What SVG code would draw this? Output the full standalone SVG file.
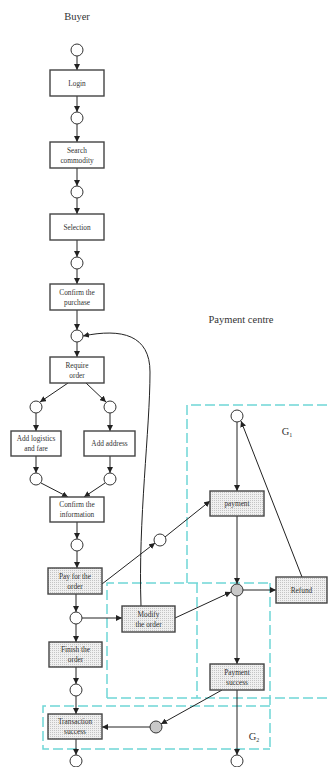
<svg xmlns="http://www.w3.org/2000/svg" width="328" height="767" viewBox="0 0 328 767">
<defs>
<pattern id="dots" width="2" height="2" patternUnits="userSpaceOnUse">
<rect width="2" height="2" fill="#f0f0f0"/>
<rect width="1" height="1" fill="#c4c4c4"/>
</pattern>
<marker id="ah" markerWidth="6" markerHeight="6" refX="6" refY="3" orient="auto" markerUnits="userSpaceOnUse">
<path d="M0,0 L6,3 L0,6 z" fill="#222"/>
</marker>
<style>
text{font-family:"Liberation Serif","DejaVu Serif",serif;fill:#333;text-anchor:middle}
.t{font-size:7.3px}
.h{font-size:10.5px}
.b{fill:#fff;stroke:#444;stroke-width:1.4}
.g{fill:url(#dots);stroke:#444;stroke-width:1.4}
.c{fill:#fff;stroke:#333;stroke-width:1}
.cg{fill:#c8c8c8;stroke:#333;stroke-width:1}
.e{stroke:#222;stroke-width:1;fill:none;marker-end:url(#ah)}
.d{stroke:#6fd6d6;stroke-width:1.5;fill:none;stroke-dasharray:10 4}
</style>
</defs>
<rect width="328" height="767" fill="#fff"/>

<g id="regions">
<path class="d" d="M187 583 L187 405 L328 405"/>
<path class="d" d="M107 698 L107 583 L270 583"/>
<path class="d" d="M107 698 L328 698"/>
<path class="d" d="M197 583 L197 698"/>
<path class="d" d="M270 583 L270 749"/>
<path class="d" d="M270 706 L43 706 L43 749 L270 749"/>
<text class="h" x="287" y="435">G<tspan font-size="6" dy="2">1</tspan></text>
<text class="h" x="254" y="740">G<tspan font-size="6" dy="2">2</tspan></text>
</g>

<text class="h" x="77" y="20">Buyer</text>
<text class="h" x="241" y="323">Payment  centre</text>

<g id="connectors">
<line class="e" x1="77" y1="56" x2="77" y2="70"/>
<line class="e" x1="77" y1="96" x2="77" y2="112"/>
<line class="e" x1="77" y1="124" x2="77" y2="142"/>
<line class="e" x1="77" y1="168" x2="77" y2="186"/>
<line class="e" x1="77" y1="198" x2="77" y2="214"/>
<line class="e" x1="77" y1="240" x2="77" y2="257"/>
<line class="e" x1="77" y1="269" x2="77" y2="284"/>
<line class="e" x1="77" y1="310" x2="77" y2="330"/>
<line class="e" x1="77" y1="342" x2="77" y2="357"/>
<line class="e" x1="68" y1="383" x2="40" y2="402"/>
<line class="e" x1="86" y1="383" x2="106" y2="402"/>
<line class="e" x1="36" y1="413" x2="36" y2="431"/>
<line class="e" x1="110" y1="413" x2="110" y2="431"/>
<line class="e" x1="36" y1="456" x2="36" y2="473"/>
<line class="e" x1="110" y1="456" x2="110" y2="473"/>
<line class="e" x1="41" y1="483" x2="68" y2="497"/>
<line class="e" x1="105" y1="483" x2="84" y2="497"/>
<line class="e" x1="77" y1="522" x2="77" y2="539"/>
<line class="e" x1="77" y1="551" x2="77" y2="568"/>
<line class="e" x1="76" y1="594" x2="76" y2="612"/>
<line class="e" x1="82" y1="618" x2="122" y2="618"/>
<line class="e" x1="76" y1="624" x2="76" y2="642"/>
<line class="e" x1="76" y1="667" x2="76" y2="684"/>
<line class="e" x1="76" y1="696" x2="76" y2="714"/>
<line class="e" x1="76" y1="739" x2="76" y2="755"/>
<line class="e" x1="102" y1="584" x2="155" y2="543"/>
<line class="e" x1="165" y1="537" x2="210" y2="501"/>
<line class="e" x1="175" y1="618" x2="231" y2="592"/>
<line class="e" x1="237" y1="422" x2="237" y2="491"/>
<line class="e" x1="237" y1="516" x2="237" y2="584"/>
<line class="e" x1="237" y1="596" x2="237" y2="664"/>
<line class="e" x1="237" y1="690" x2="237" y2="755"/>
<line class="e" x1="243" y1="590" x2="276" y2="590"/>
<line class="e" x1="302" y1="577" x2="241" y2="421"/>
<line class="e" x1="222" y1="690" x2="161" y2="724"/>
<line class="e" x1="150" y1="727" x2="102" y2="727"/>
<path class="e" d="M141 606 C138 520 150 430 150 372 C150 335 122 328 83 336"/>
</g>

<g id="c1"><circle class="c" cx="77" cy="50" r="6"/></g>
<g id="login"><rect class="b" x="50" y="70" width="54" height="26"/><text class="t" x="77" y="85.5">Login</text></g>
<g id="c2"><circle class="c" cx="77" cy="118" r="6"/></g>
<g id="search"><rect class="b" x="50" y="142" width="54" height="26"/><text class="t" x="77" y="153">Search</text><text class="t" x="77" y="163">commodity</text></g>
<g id="c3"><circle class="c" cx="77" cy="192" r="6"/></g>
<g id="selection"><rect class="b" x="50" y="214" width="54" height="26"/><text class="t" x="77" y="229.5">Selection</text></g>
<g id="c4"><circle class="c" cx="77" cy="263" r="6"/></g>
<g id="confirm-purchase"><rect class="b" x="50" y="284" width="54" height="26"/><text class="t" x="77" y="295">Confirm the</text><text class="t" x="77" y="305">purchase</text></g>
<g id="c5"><circle class="c" cx="77" cy="336" r="6"/></g>
<g id="require"><rect class="b" x="50" y="357" width="54" height="26"/><text class="t" x="77" y="368">Require</text><text class="t" x="77" y="378">order</text></g>
<g id="c6"><circle class="c" cx="36" cy="407" r="6"/></g>
<g id="c7"><circle class="c" cx="110" cy="407" r="6"/></g>
<g id="add-logistics"><rect class="b" x="11" y="431" width="50" height="25"/><text class="t" x="36" y="441">Add logistics</text><text class="t" x="36" y="451">and fare</text></g>
<g id="add-address"><rect class="b" x="84" y="431" width="51" height="25"/><text class="t" x="109.5" y="446">Add address</text></g>
<g id="c8"><circle class="c" cx="36" cy="479" r="6"/></g>
<g id="c9"><circle class="c" cx="110" cy="479" r="6"/></g>
<g id="confirm-info"><rect class="b" x="50" y="497" width="54" height="25"/><text class="t" x="77" y="507">Confirm the</text><text class="t" x="77" y="517">information</text></g>
<g id="c10"><circle class="c" cx="77" cy="545" r="6"/></g>
<g id="pay"><rect class="g" x="48" y="568" width="54" height="26"/><text class="t" x="75" y="579">Pay for the</text><text class="t" x="75" y="589">order</text></g>
<g id="c11"><circle class="c" cx="76" cy="618" r="6"/></g>
<g id="modify"><rect class="g" x="122" y="606" width="53" height="26"/><text class="t" x="148.5" y="617">Modify</text><text class="t" x="148.5" y="627">the order</text></g>
<g id="finish"><rect class="g" x="49" y="642" width="53" height="25"/><text class="t" x="75.5" y="652">Finish the</text><text class="t" x="75.5" y="662">order</text></g>
<g id="c12"><circle class="c" cx="76" cy="690" r="6"/></g>
<g id="transaction"><rect class="g" x="48" y="714" width="54" height="25"/><text class="t" x="75" y="724">Transaction</text><text class="t" x="75" y="734">success</text></g>
<g id="c13"><circle class="c" cx="76" cy="761" r="6"/></g>

<g id="cp1"><circle class="c" cx="237" cy="416" r="6"/></g>
<g id="payment"><rect class="g" x="210" y="491" width="54" height="25"/><text class="t" x="237" y="506">payment</text></g>
<g id="cm"><circle class="c" cx="160" cy="540" r="6"/></g>
<g id="cp2"><circle class="cg" cx="237" cy="590" r="6"/></g>
<g id="refund"><rect class="g" x="276" y="577" width="51" height="26"/><text class="t" x="301.5" y="593">Refund</text></g>
<g id="pay-success"><rect class="g" x="210" y="664" width="54" height="26"/><text class="t" x="237" y="675">Payment</text><text class="t" x="237" y="685">success</text></g>
<g id="cp3"><circle class="c" cx="237" cy="761" r="6"/></g>
<g id="ct"><circle class="cg" cx="156" cy="727" r="6"/></g>
</svg>
